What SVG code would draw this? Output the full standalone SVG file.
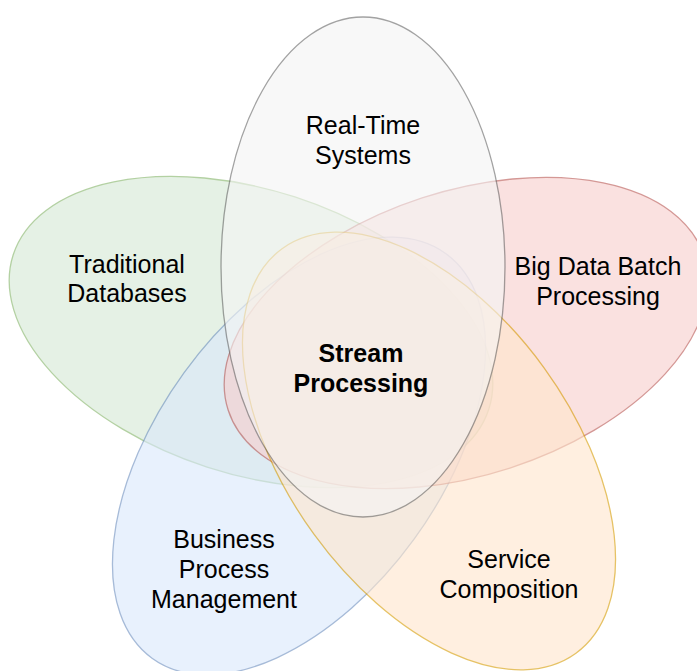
<svg xmlns="http://www.w3.org/2000/svg" width="697" height="671" viewBox="0 0 697 671">
<style>
  .petal { stroke-width: 1.3; opacity: 0.6; }
  .lbl { font-family: "Liberation Sans", Arial, Helvetica, sans-serif; font-size: 25px; fill: #000000; text-anchor: middle; }
  .bold { font-weight: bold; }
</style>
<rect x="0" y="0" width="697" height="671" fill="#ffffff"/>
<g id="traditional-databases">
  <ellipse class="petal" cx="0" cy="0" rx="142" ry="250" transform="translate(251 332) rotate(-72)" fill="#d5e8d4" stroke="#82b366"/>
  <text class="lbl" x="127" y="273">Traditional</text>
  <text class="lbl" x="127" y="302">Databases</text>
</g>
<g id="business-process-management">
  <ellipse class="petal" cx="0" cy="0" rx="142" ry="250" transform="translate(299 456) rotate(36)" fill="#dae8fc" stroke="#6c8ebf"/>
  <text class="lbl" x="224" y="548">Business</text>
  <text class="lbl" x="224" y="578">Process</text>
  <text class="lbl" x="224" y="608">Management</text>
</g>
<g id="big-data-batch-processing">
  <ellipse class="petal" cx="0" cy="0" rx="142" ry="250" transform="translate(466 333) rotate(72)" fill="#f8cecc" stroke="#b85450"/>
  <text class="lbl" x="598" y="275">Big Data Batch</text>
  <text class="lbl" x="598" y="305">Processing</text>
</g>
<g id="service-composition">
  <ellipse class="petal" cx="0" cy="0" rx="142" ry="250" transform="translate(429 451) rotate(-36)" fill="#ffe6cc" stroke="#d79b00"/>
  <text class="lbl" x="509" y="568">Service</text>
  <text class="lbl" x="509" y="598">Composition</text>
</g>
<g id="real-time-systems">
  <ellipse class="petal" cx="363" cy="267" rx="142" ry="250" fill="#f5f5f5" stroke="#666666"/>
  <text class="lbl" x="363" y="134">Real-Time</text>
  <text class="lbl" x="363" y="164">Systems</text>
</g>
<g id="stream-processing">
  <text class="lbl bold" x="361" y="362">Stream</text>
  <text class="lbl bold" x="361" y="392">Processing</text>
</g>
<g id="connectors"></g>
</svg>
